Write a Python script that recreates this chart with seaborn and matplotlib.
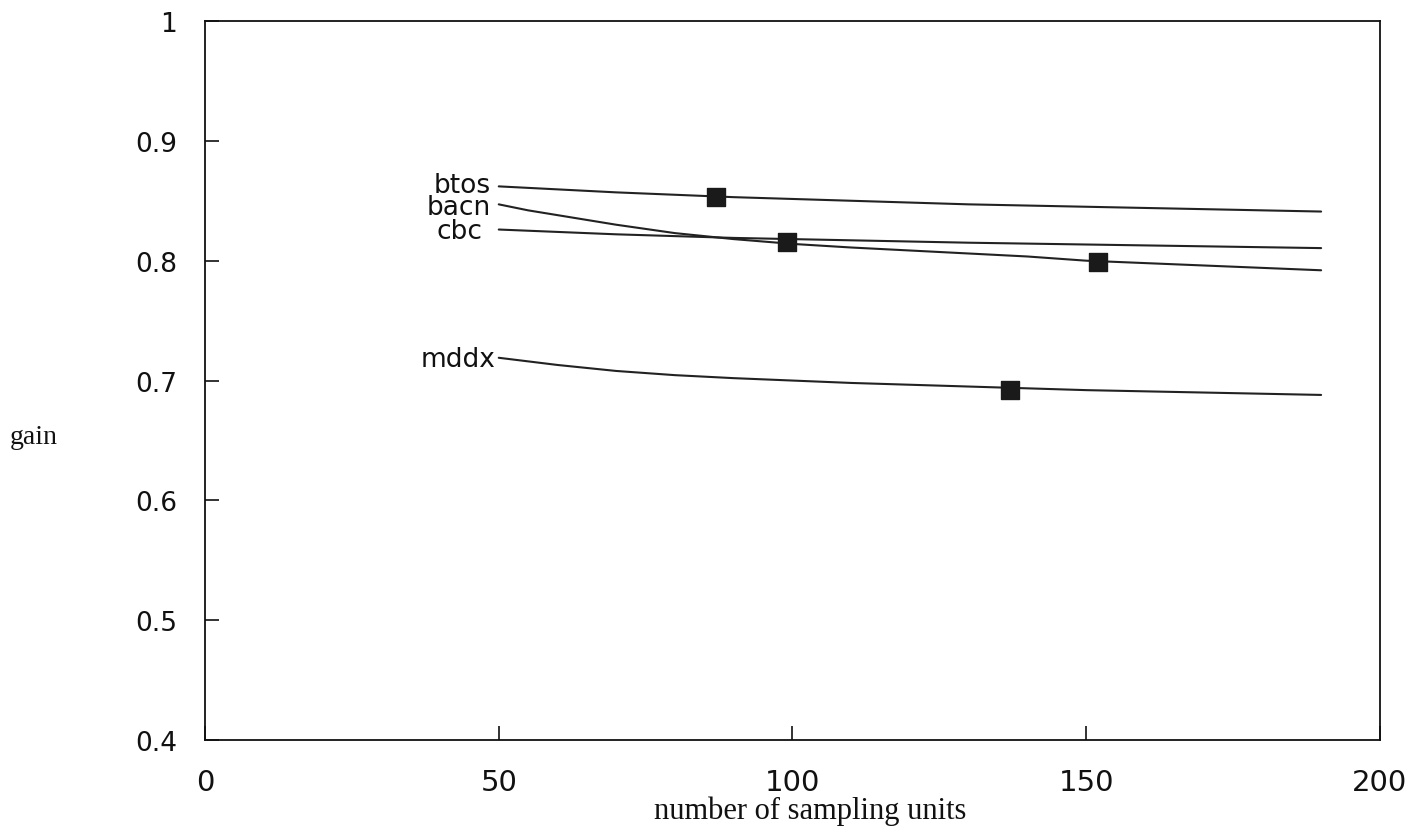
import matplotlib
matplotlib.use("Agg")
import matplotlib.pyplot as plt
import seaborn as sns
import pandas as pd

# ---- data ----
btos_x = [50, 70, 90, 110, 130, 150, 170, 190]
btos_y = [0.862, 0.857, 0.853, 0.850, 0.847, 0.845, 0.843, 0.841]

bacn_x = [50, 55, 60, 65, 70, 80, 90, 100, 110, 120, 130, 140, 150, 160, 170, 180, 190]
bacn_y = [0.847, 0.842, 0.838, 0.834, 0.830, 0.823, 0.818, 0.814, 0.811, 0.8085,
          0.806, 0.8035, 0.800, 0.798, 0.796, 0.794, 0.792]

cbc_x = [50, 70, 90, 110, 130, 150, 170, 190]
cbc_y = [0.826, 0.822, 0.819, 0.817, 0.815, 0.8135, 0.812, 0.8105]

mddx_x = [50, 55, 60, 65, 70, 80, 90, 100, 110, 120, 130, 140, 150, 160, 170, 180, 190]
mddx_y = [0.719, 0.716, 0.713, 0.7105, 0.708, 0.7045, 0.702, 0.700, 0.698, 0.6965,
          0.695, 0.6935, 0.692, 0.691, 0.690, 0.689, 0.688]

series_names = ["btos", "bacn", "cbc", "mddx"]
marker_x = [87, 152, 99, 137]
marker_y = [0.853, 0.799, 0.816, 0.692]

label_x = [48.6, 48.6, 47.3, 49.5]
label_y = [0.863, 0.845, 0.825, 0.718]

x_ticks = [0, 50, 100, 150, 200]
y_ticks = [0.4, 0.5, 0.6, 0.7, 0.8, 0.9, 1.0]
y_tick_labels = ["0.4", "0.5", "0.6", "0.7", "0.8", "0.9", "1"]

sns.set_theme(style="white")
plt.rcParams["font.family"] = ["DejaVu Sans"]

fig = plt.figure(figsize=(14.24, 8.29), dpi=100)
ax = fig.add_axes([0.144, 0.106, 0.825, 0.8675])

xs = [btos_x, bacn_x, cbc_x, mddx_x]
ys = [btos_y, bacn_y, cbc_y, mddx_y]
for name, x, y in zip(series_names, xs, ys):
    df = pd.DataFrame({"x": x, "y": y})
    sns.lineplot(data=df, x="x", y="y", ax=ax, color="#222222", linewidth=1.5)

mk = pd.DataFrame({"x": marker_x, "y": marker_y})
sns.scatterplot(data=mk, x="x", y="y", ax=ax, marker="s", s=150,
                color="#1a1a1a", edgecolor="#1a1a1a", zorder=5)

for name, lx, ly in zip(series_names, label_x, label_y):
    kw = {}
    if name == "btos":
        kw["bbox"] = dict(facecolor="white", edgecolor="none", pad=0.3)
    ax.text(lx, ly, name, ha="right", va="center", fontsize=19,
            color="#111111", zorder=6 if name == "btos" else 4, **kw)

ax.set_xlim(0, 200)
ax.set_ylim(0.4, 1.0)
ax.set_xticks(x_ticks)
ax.set_xticklabels([str(t) for t in x_ticks])
ax.set_yticks(y_ticks)
ax.set_yticklabels(y_tick_labels)
ax.tick_params(axis="y", direction="in", length=10, width=1.2,
               labelsize=19, colors="#111111", pad=20)
ax.tick_params(axis="x", direction="in", length=10, width=1.2,
               labelsize=21, colors="#111111", pad=20)
ax.xaxis.set_ticks_position("bottom")
ax.yaxis.set_ticks_position("left")

for sp in ax.spines.values():
    sp.set_visible(True)
    sp.set_color("#111111")
    sp.set_linewidth(1.3)

ax.set_xlabel("")
ax.set_ylabel("")
fig.text(810 / 1424, 1 - 811 / 829, "number of sampling units", fontsize=22,
         ha="center", va="center",
         family=["Liberation Serif", "DejaVu Serif"], color="#111111")
fig.text(10 / 1424, 1 - 438 / 829, "gain", fontsize=20, ha="left", va="center",
         family=["Liberation Serif", "DejaVu Serif"], color="#111111")

fig.savefig("out.png", dpi=100, facecolor="white")
